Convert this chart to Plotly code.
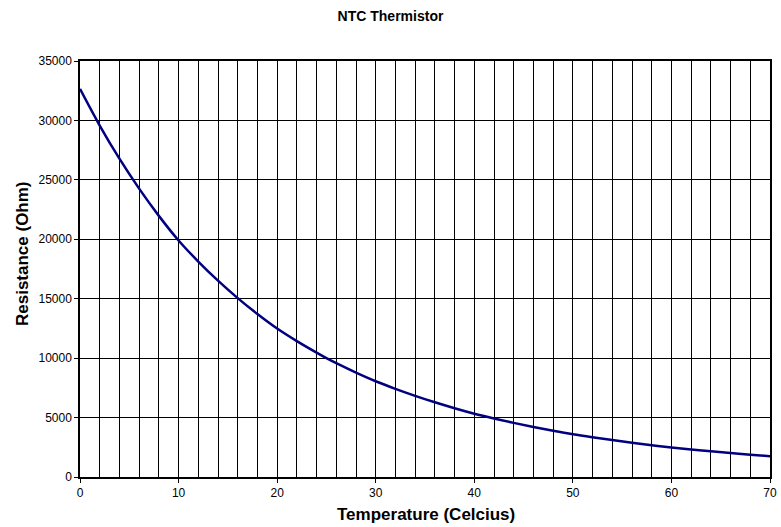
import plotly.graph_objects as go

temperature_c = [0, 2, 4, 6, 8, 10, 12, 14, 16, 18, 20, 22, 24, 25, 26, 28, 30,
                 32, 34, 36, 38, 40, 42, 44, 46, 48, 50, 52, 54, 56, 58, 60,
                 62, 64, 66, 68, 70]
resistance_ohm = [32650, 29570, 26780, 24260, 21970, 19900, 18130, 16520, 15050,
                  13710, 12490, 11430, 10460, 10000, 9577, 8785, 8057, 7417, 6828,
                  6286, 5787, 5327, 4926, 4556, 4213, 3896, 3603, 3346, 3107, 2885,
                  2679, 2488, 2320, 2163, 2016, 1880, 1752]

title_text = "NTC Thermistor"
x_title = "Temperature (Celcius)"
y_title = "Resistance (Ohm)"

FONT = "Liberation Sans, Arial, sans-serif"

fig = go.Figure()
fig.add_trace(go.Scatter(
    x=temperature_c, y=resistance_ohm, mode="lines",
    line=dict(color="#000080", width=2.5, shape="spline"),
    showlegend=False, hoverinfo="x+y",
))

fig.update_layout(
    width=781, height=527,
    margin=dict(l=80, r=4, t=61, b=50),
    paper_bgcolor="white", plot_bgcolor="white",
    font=dict(family=FONT, color="black", size=12),
    title=dict(text="<b>%s</b>" % title_text, x=0.5, xanchor="center",
               y=1 - 16 / 527, yanchor="middle", yref="container",
               font=dict(size=14, family=FONT, color="black")),
    xaxis=dict(
        range=[0, 70], dtick=10, tick0=0,
        showgrid=True, gridcolor="black", gridwidth=1,
        minor=dict(dtick=2, showgrid=True, gridcolor="black", gridwidth=1, ticks=""),
        ticks="outside", ticklen=4, tickcolor="black",
        showline=True, linecolor="black", linewidth=1.5, mirror=True,
        zeroline=False, tickfont=dict(size=12), ticklabeloverflow="allow",
    ),
    yaxis=dict(
        range=[0, 35000], dtick=5000, tick0=0, tickformat="d",
        showgrid=True, gridcolor="black", gridwidth=1,
        ticks="outside", ticklen=4, tickcolor="black",
        showline=True, linecolor="black", linewidth=1.5, mirror=True,
        zeroline=False, tickfont=dict(size=12),
    ),
    annotations=[
        dict(text="<b>%s</b>" % x_title, xref="paper", yref="paper", x=0.5, y=0,
             xanchor="center", yanchor="bottom", yshift=-49, xshift=1, showarrow=False,
             font=dict(size=17, family=FONT, color="black")),
        dict(text="<b>%s</b>" % y_title, xref="paper", yref="paper", x=0, y=0.536,
             xanchor="center", yanchor="middle", xshift=-58, textangle=-90,
             showarrow=False, font=dict(size=17, family=FONT, color="black")),
    ],
)

fig.write_html("out.html", config={"displayModeBar": False},
               post_script="document.body.style.margin='0';document.body.style.overflow='hidden';")
